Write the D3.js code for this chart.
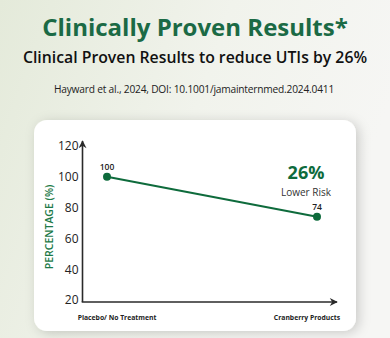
<!DOCTYPE html>
<html>
<head>
<meta charset="utf-8">
<script src="https://cdn.jsdelivr.net/npm/d3@7"></script>
<style>
  html, body { margin: 0; padding: 0; }
  body { width: 390px; height: 338px; overflow: hidden; }
</style>
</head>
<body>
<div id="chart"></div>
<script>
// data
const categories = ['Placebo/ No Treatment', 'Cranberry Products'];
const values = [100, 74];
const yTicks = [20, 40, 60, 80, 100, 120];

const width = 390, height = 338;
const green = '#0e6b3c';
const font = '"Open Sans", "Noto Sans", sans-serif';

const svg = d3.select('#chart').append('svg').attr('width', width).attr('height', height);
const defs = svg.append('defs');

// 背景渐变
const bg = defs.append('linearGradient').attr('id', 'bg').attr('x1', 0).attr('y1', 0).attr('x2', 1).attr('y2', 0.3);
bg.append('stop').attr('offset', '0%').attr('stop-color', '#e4eada');
bg.append('stop').attr('offset', '55%').attr('stop-color', '#f1f3ec');
bg.append('stop').attr('offset', '100%').attr('stop-color', '#f6f6f4');
svg.append('rect').attr('width', width).attr('height', height).attr('fill', 'url(#bg)');

const shadow = defs.append('filter').attr('id', 'shadow').attr('x', '-20%').attr('y', '-20%').attr('width', '140%').attr('height', '140%');
shadow.append('feDropShadow').attr('dx', 3).attr('dy', 2).attr('stdDeviation', 6).attr('flood-color', '#000').attr('flood-opacity', 0.18);

// 标题
svg.append('text').attr('x', 195).attr('y', 36).attr('text-anchor', 'middle')
  .attr('font-family', font).attr('font-weight', 700).attr('font-size', 24).attr('fill', '#1b6a45')
  .text('Clinically Proven Results*');
svg.append('text').attr('x', 195).attr('y', 63).attr('text-anchor', 'middle')
  .attr('font-family', font).attr('font-weight', 600).attr('font-size', 15.8).attr('fill', '#111')
  .text('Clinical Proven Results to reduce UTIs by 26%');
svg.append('text').attr('x', 194).attr('y', 93).attr('text-anchor', 'middle')
  .attr('font-family', font).attr('font-size', 10.2).attr('fill', '#222').attr('letter-spacing', -0.2)
  .text('Hayward et al., 2024, DOI: 10.1001/jamainternmed.2024.0411');

// 卡片
svg.append('rect').attr('x', 34).attr('y', 120).attr('width', 322).attr('height', 211).attr('rx', 13)
  .attr('fill', '#fff').attr('filter', 'url(#shadow)');

const x = d3.scalePoint().domain(categories).range([107, 317]);
const y = d3.scaleLinear().domain([20, 120]).range([300, 146]);

const axisColor = '#2a2a2a';
const x0 = 82.5, yBase = 302;

// arrow markers
defs.append('marker').attr('id', 'arrow').attr('viewBox', '0 0 10 10').attr('refX', 9).attr('refY', 5)
  .attr('markerWidth', 6).attr('markerHeight', 5).attr('orient', 'auto').attr('markerUnits', 'strokeWidth')
  .append('path').attr('d', 'M0,0 L10,5 L0,10 L3,5 Z').attr('fill', axisColor);

svg.append('line').attr('x1', x0).attr('y1', yBase).attr('x2', x0).attr('y2', 141)
  .attr('stroke', axisColor).attr('stroke-width', 1.6).attr('marker-end', 'url(#arrow)');
svg.append('line').attr('x1', x0 - 0.8).attr('y1', yBase).attr('x2', 337).attr('y2', yBase)
  .attr('stroke', axisColor).attr('stroke-width', 1.6).attr('marker-end', 'url(#arrow)');

// y tick labels
const yAxis = d3.axisLeft(y).tickValues(yTicks).tickSize(0).tickPadding(4);
const gy = svg.append('g').attr('transform', `translate(${x0},0)`).call(yAxis);
gy.select('.domain').remove();
gy.selectAll('text').attr('font-family', font).attr('font-size', 12).attr('fill', '#222');

// y title
svg.append('text').attr('transform', `translate(53,227) rotate(-90)`).attr('text-anchor', 'middle')
  .attr('font-family', font).attr('font-weight', 600).attr('font-size', 10.5).attr('fill', '#1d7a48')
  .text('PERCENTAGE (%)');

// x labels
svg.selectAll('.xlab').data(categories).enter().append('text').attr('class', 'xlab')
  .attr('x', (d, i) => i === 0 ? x(d) + 10 : x(d) - 10).attr('y', 320).attr('text-anchor', 'middle')
  .attr('font-family', font).attr('font-weight', 700).attr('font-size', 6.8).attr('fill', '#222')
  .text(d => d);

// line
const pts = categories.map((c, i) => ({ c: c, v: values[i] }));
const line = d3.line().x(d => x(d.c)).y(d => y(d.v));
svg.append('path').datum(pts).attr('d', line).attr('fill', 'none').attr('stroke', green).attr('stroke-width', 2);
svg.selectAll('.dot').data(pts).enter().append('circle').attr('class', 'dot')
  .attr('cx', d => x(d.c)).attr('cy', d => y(d.v)).attr('r', 4).attr('fill', green);
svg.selectAll('.vlab').data(pts).enter().append('text').attr('class', 'vlab')
  .attr('x', d => x(d.c)).attr('y', d => y(d.v) - 7).attr('text-anchor', 'middle')
  .attr('font-family', font).attr('font-weight', 600).attr('font-size', 8.5).attr('fill', '#222')
  .text(d => d.v);

// annotation
const drop = Math.round((values[0] - values[1]) / values[0] * 100);
svg.append('text').attr('x', 306).attr('y', 179).attr('text-anchor', 'middle')
  .attr('font-family', font).attr('font-weight', 700).attr('font-size', 18).attr('fill', green)
  .text(drop + '%');
svg.append('text').attr('x', 306).attr('y', 195.5).attr('text-anchor', 'middle')
  .attr('font-family', font).attr('font-weight', 500).attr('font-size', 10).attr('fill', '#333')
  .text('Lower Risk');
</script>
</body>
</html>
